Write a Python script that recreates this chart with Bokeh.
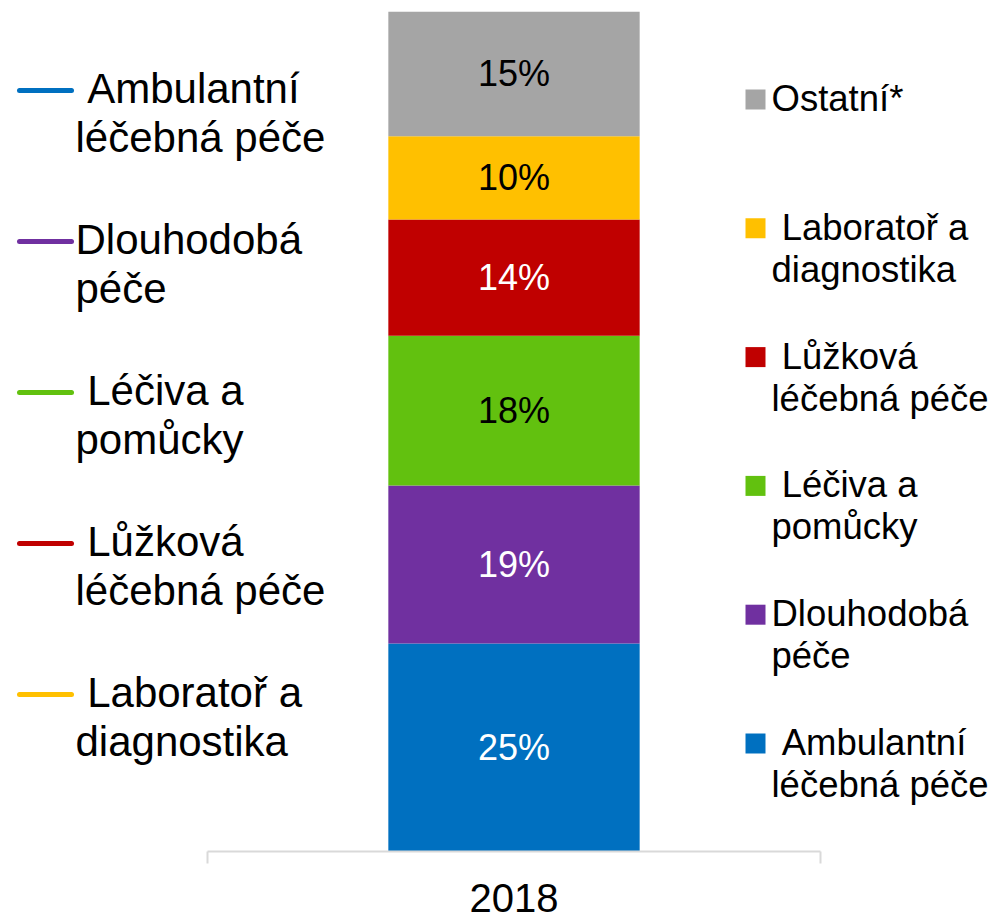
from bokeh.plotting import figure
from bokeh.models import (ColumnDataSource, Range1d, LinearAxis, FixedTicker)
from bokeh.core.properties import value
from bokeh.embed import file_html
from bokeh.resources import INLINE

# ---------------- data ----------------
years = ["2018"]
categories = ["Ambulantní léčebná péče", "Dlouhodobá péče", "Léčiva a pomůcky",
              "Lůžková léčebná péče", "Laboratoř a diagnostika", "Ostatní*"]
shares = [25, 19, 18, 14, 10, 15]
colors = ["#0070C0", "#7030A0", "#62C10F", "#C00000", "#FFC000", "#A5A5A5"]
label_colors = ["white", "white", "black", "white", "black", "black"]

# legend texts as shown (line breaks as in the original)
left_legend = ["\u00a0Ambulantní\nléčebná péče", "Dlouhodobá\npéče", "\u00a0Léčiva a\npomůcky",
               "\u00a0Lůžková\nléčebná péče", "\u00a0Laboratoř a\ndiagnostika"]
right_legend = ["Ostatní*", "\u00a0Laboratoř a\ndiagnostika", "\u00a0Lůžková\nléčebná péče",
                "\u00a0Léčiva a\npomůcky", "Dlouhodobá\npéče", "\u00a0Ambulantní\nléčebná péče"]
left_colors = colors[:5]
right_colors = colors[::-1]

FONT = value("Liberation Sans")

# ---------------- layout helpers (page pixel -> data coords) ----------------
OFF = 0                               # canvas origin on the page
W, H = 998, 918
X0_PAGE, X1_PAGE = 207.0, 820.0      # category band edges (-0.5 .. 0.5)
Y0_PAGE, Y1_PAGE = 851.0, 11.0       # y=0 .. y=101
YMAX = 101.0

def px_x(px):
    return (px - (X0_PAGE + X1_PAGE) / 2) / (X1_PAGE - X0_PAGE)

def px_y(py):
    return (Y0_PAGE - py) * YMAX / (Y0_PAGE - Y1_PAGE)

p = figure(width=W, height=H, output_backend="svg", toolbar_location=None,
           x_axis_type=None, y_axis_type=None,
           x_range=Range1d(px_x(OFF), px_x(OFF + W)),
           y_range=Range1d(px_y(OFF + H), YMAX),
           min_border_left=0, min_border_right=0,
           min_border_top=int(Y1_PAGE - OFF), min_border_bottom=0)
p.outline_line_color = None
p.xgrid.visible = False
p.ygrid.visible = False
p.background_fill_color = "white"
p.border_fill_color = "white"

# ---------------- stacked bar ----------------
keys = [f"s{i}" for i in range(len(categories))]
data = {"x": [0]}
for k, v in zip(keys, shares):
    data[k] = [v]
src = ColumnDataSource(data)
p.vbar_stack(keys, x="x", width=0.41, color=colors, source=src, line_color=None)

# segment labels
cum = 0
lx, ly, lt, lc = [], [], [], []
for v, c in zip(shares, label_colors):
    lx.append(0)
    ly.append(cum + v / 2)
    lt.append(f"{v}%")
    lc.append(c)
    cum += v
p.text(x="x", y="y", text="t", text_color="c",
       source=ColumnDataSource(dict(x=lx, y=ly, t=lt, c=lc)),
       text_font=FONT, text_font_size=value("36px"),
       text_align="center", text_baseline="middle")

# ---------------- x axis (category axis at y = 0) ----------------
ax = LinearAxis(ticker=FixedTicker(ticks=[0], minor_ticks=[-0.5, 0.5]), fixed_location=0)
ax.bounds = (-0.5, 0.5)
ax.major_label_overrides = {0: years[0]}
ax.axis_line_color = "#D9D9D9"
ax.axis_line_width = 2
ax.major_tick_line_color = None
ax.major_tick_in = 0
ax.major_tick_out = 0
ax.minor_tick_line_color = "#D9D9D9"
ax.minor_tick_line_width = 2
ax.minor_tick_in = 0
ax.minor_tick_out = 12
ax.major_label_standoff = 20
ax.major_label_text_font = "Liberation Sans"
ax.major_label_text_font_size = "40px"
ax.major_label_text_color = "black"
p.add_layout(ax, "below")

# ---------------- left legend (line markers) ----------------
seg = dict(x0=[], x1=[], y=[], c=[])
tx = dict(x=[], y=[], t=[])
for i, (lab, col) in enumerate(zip(left_legend, left_colors)):
    my = 90 + 151 * i
    seg["x0"].append(px_x(19)); seg["x1"].append(px_x(71))
    seg["y"].append(px_y(my)); seg["c"].append(col)
    for j, line in enumerate(lab.split("\n")):
        tx["x"].append(px_x(75)); tx["y"].append(px_y(my - 2 + 49 * j)); tx["t"].append(line)
p.segment(x0="x0", y0="y", x1="x1", y1="y", color="c", line_width=5, line_cap="round",
          source=ColumnDataSource(seg))
p.text(x="x", y="y", text="t", source=ColumnDataSource(tx), text_font=FONT,
       text_font_size=value("42px"), text_align="left", text_baseline="middle",
       text_color="black")

# ---------------- right legend (square markers) ----------------
sq = dict(x=[], y=[], c=[])
tx2 = dict(x=[], y=[], t=[])
for i, (lab, col) in enumerate(zip(right_legend, right_colors)):
    my = 99 + 128.8 * i
    sq["x"].append(px_x(755)); sq["y"].append(px_y(my)); sq["c"].append(col)
    for j, line in enumerate(lab.split("\n")):
        tx2["x"].append(px_x(771)); tx2["y"].append(px_y(my - 1 + 42 * j)); tx2["t"].append(line)
p.scatter(x="x", y="y", color="c", marker="square", size=20, line_color=None,
          source=ColumnDataSource(sq))
p.text(x="x", y="y", text="t", source=ColumnDataSource(tx2), text_font=FONT,
       text_font_size=value("36.5px"), text_align="left", text_baseline="middle",
       text_color="black")

open("out.html", "w").write(file_html(p, INLINE))
